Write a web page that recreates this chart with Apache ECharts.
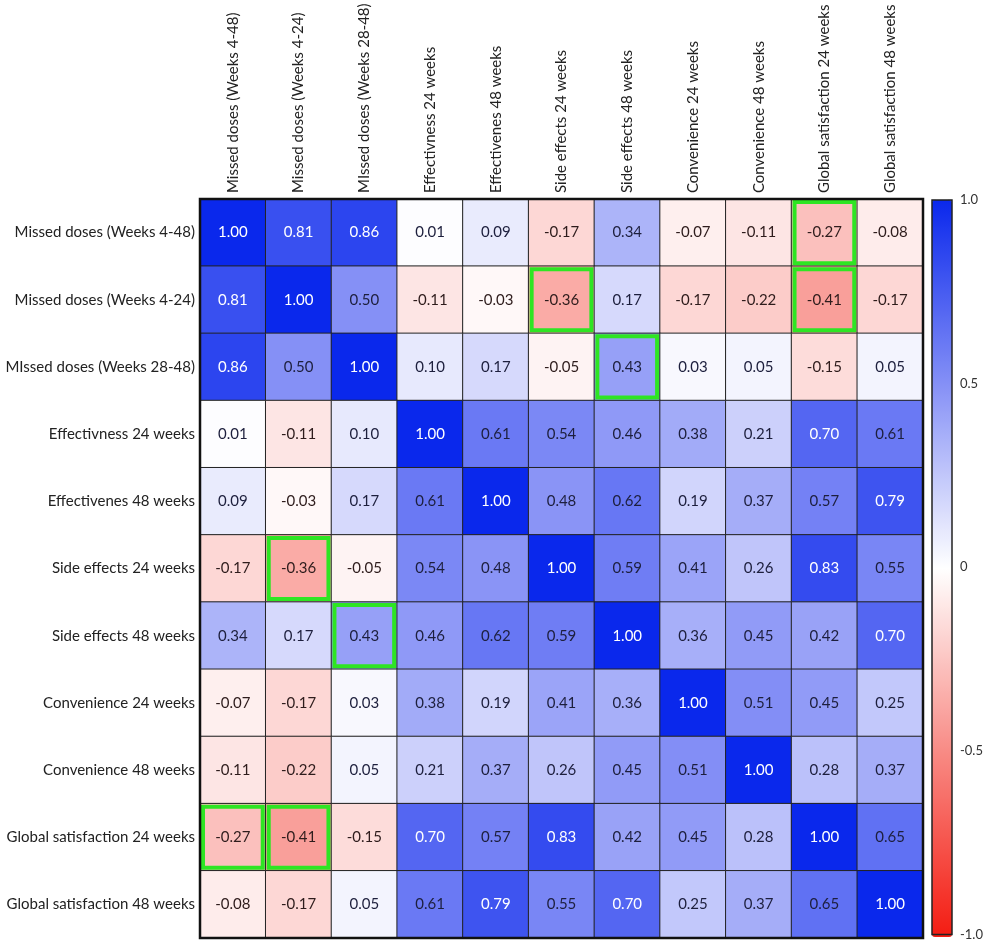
<!DOCTYPE html>
<html>
<head>
<meta charset="utf-8">
<script src="https://cdn.jsdelivr.net/npm/echarts@6/dist/echarts.min.js"></script>
<style>
  html, body { margin: 0; padding: 0; background: #fff; }
  #chart { width: 991px; height: 941px; }
</style>
</head>
<body>
<div id="chart"></div>
<script>
// Variables of the correlation matrix (same order for rows and columns)
const rowLabels = [
  'Missed doses (Weeks 4-48)',
  'Missed doses (Weeks 4-24)',
  'MIssed doses (Weeks 28-48)',
  'Effectivness 24 weeks',
  'Effectivenes 48 weeks',
  'Side effects 24 weeks',
  'Side effects 48 weeks',
  'Convenience 24 weeks',
  'Convenience 48 weeks',
  'Global satisfaction 24 weeks',
  'Global satisfaction 48 weeks'
];
const colLabels = rowLabels.slice();

// Correlation coefficients, one array per row
const rMissed448   = [1.00, 0.81, 0.86, 0.01, 0.09, -0.17, 0.34, -0.07, -0.11, -0.27, -0.08];
const rMissed424   = [0.81, 1.00, 0.50, -0.11, -0.03, -0.36, 0.17, -0.17, -0.22, -0.41, -0.17];
const rMissed2848  = [0.86, 0.50, 1.00, 0.10, 0.17, -0.05, 0.43, 0.03, 0.05, -0.15, 0.05];
const rEffect24    = [0.01, -0.11, 0.10, 1.00, 0.61, 0.54, 0.46, 0.38, 0.21, 0.70, 0.61];
const rEffect48    = [0.09, -0.03, 0.17, 0.61, 1.00, 0.48, 0.62, 0.19, 0.37, 0.57, 0.79];
const rSide24      = [-0.17, -0.36, -0.05, 0.54, 0.48, 1.00, 0.59, 0.41, 0.26, 0.83, 0.55];
const rSide48      = [0.34, 0.17, 0.43, 0.46, 0.62, 0.59, 1.00, 0.36, 0.45, 0.42, 0.70];
const rConv24      = [-0.07, -0.17, 0.03, 0.38, 0.19, 0.41, 0.36, 1.00, 0.51, 0.45, 0.25];
const rConv48      = [-0.11, -0.22, 0.05, 0.21, 0.37, 0.26, 0.45, 0.51, 1.00, 0.28, 0.37];
const rGlobal24    = [-0.27, -0.41, -0.15, 0.70, 0.57, 0.83, 0.42, 0.45, 0.28, 1.00, 0.65];
const rGlobal48    = [-0.08, -0.17, 0.05, 0.61, 0.79, 0.55, 0.70, 0.25, 0.37, 0.65, 1.00];
const matrixRows = [rMissed448, rMissed424, rMissed2848, rEffect24, rEffect48,
                    rSide24, rSide48, rConv24, rConv48, rGlobal24, rGlobal48];

// Cells outlined in green: [column index, row index]
const highlightCells = [[9, 0], [5, 1], [9, 1], [6, 2], [1, 5], [2, 6], [0, 9], [1, 9]];

// Colour-bar tick values
const scaleTicks = [-1, -0.5, 0, 0.5, 1];

const FONT = 'Lato';

const cellData = [];
matrixRows.forEach(function (row, r) {
  row.forEach(function (v, c) {
    cellData.push({
      value: [c, r, v],
      label: { color: v >= 0.7 ? '#ffffff' : (v < 0 ? '#2e1c1c' : '#1d1f3d') }
    });
  });
});

const chart = echarts.init(document.getElementById('chart'), null, { renderer: 'canvas' });

chart.setOption({
  backgroundColor: '#ffffff',
  animation: false,
  grid: [
    {
      left: 200, top: 199, width: 723, height: 739,
      show: true, z: 10, backgroundColor: 'transparent',
      borderColor: '#111', borderWidth: 2.5
    },
    {
      left: 932, top: 200, width: 20, height: 737,
      show: true, z: 10, backgroundColor: 'transparent',
      borderColor: '#222', borderWidth: 1.5
    }
  ],
  xAxis: [
    {
      type: 'category', gridIndex: 0, position: 'top', data: colLabels,
      axisLine: { show: false }, axisTick: { show: false }, splitLine: { show: false },
      axisLabel: { interval: 0, rotate: -90, margin: 6, fontFamily: FONT, fontSize: 15, color: '#222' }
    },
    {
      type: 'category', gridIndex: 1, data: [''], show: false
    }
  ],
  yAxis: [
    {
      type: 'category', gridIndex: 0, data: rowLabels, inverse: true,
      axisLine: { show: false }, axisTick: { show: false }, splitLine: { show: false },
      axisLabel: { interval: 0, margin: 5, fontFamily: FONT, fontSize: 15, color: '#222' }
    },
    {
      type: 'value', gridIndex: 1, min: scaleTicks[0], max: scaleTicks[scaleTicks.length - 1],
      interval: 0.5, position: 'right',
      axisLine: { show: false }, splitLine: { show: false },
      axisTick: { show: true, inside: true, length: 4, lineStyle: { color: '#222', width: 1.2 } },
      axisLabel: {
        margin: 8, fontFamily: FONT, fontSize: 13, color: '#333',
        formatter: function (v) { return v === 0 ? '0' : v.toFixed(1); }
      }
    },
    {
      type: 'value', gridIndex: 1, min: scaleTicks[0], max: scaleTicks[scaleTicks.length - 1],
      interval: 0.5, position: 'left',
      axisLine: { show: false }, splitLine: { show: false },
      axisTick: { show: true, inside: true, length: 4, lineStyle: { color: '#222', width: 1.2 } },
      axisLabel: { show: false }
    }
  ],
  visualMap: {
    type: 'continuous', seriesIndex: 0, min: -1, max: 1,
    calculable: false, orient: 'vertical',
    left: 932, top: 200, itemWidth: 20, itemHeight: 737, padding: 0,
    text: null, showLabel: false,
    // stops at -1, -0.5, 0, 0.5, 1
    inRange: { color: ['#f41c12', '#f88a84', '#ffffff', '#8590f6', '#0a28ec'] }
  },
  series: [
    {
      type: 'heatmap', xAxisIndex: 0, yAxisIndex: 0, data: cellData,
      itemStyle: { borderColor: '#222', borderWidth: 1 },
      label: {
        show: true, fontFamily: FONT, fontSize: 15,
        formatter: function (p) { return p.value[2].toFixed(2); }
      },
      emphasis: { disabled: true }
    },
    {
      type: 'custom', xAxisIndex: 0, yAxisIndex: 0, z: 5, silent: true,
      data: highlightCells,
      renderItem: function (params, api) {
        const p = api.coord([api.value(0), api.value(1)]);
        const s = api.size([1, 1]);
        const inset = 3;
        return {
          type: 'rect',
          shape: {
            x: p[0] - s[0] / 2 + inset, y: p[1] - s[1] / 2 + inset,
            width: s[0] - inset * 2, height: s[1] - inset * 2
          },
          style: { fill: 'none', stroke: '#2ee523', lineWidth: 4 }
        };
      }
    }
  ]
});
</script>
</body>
</html>
